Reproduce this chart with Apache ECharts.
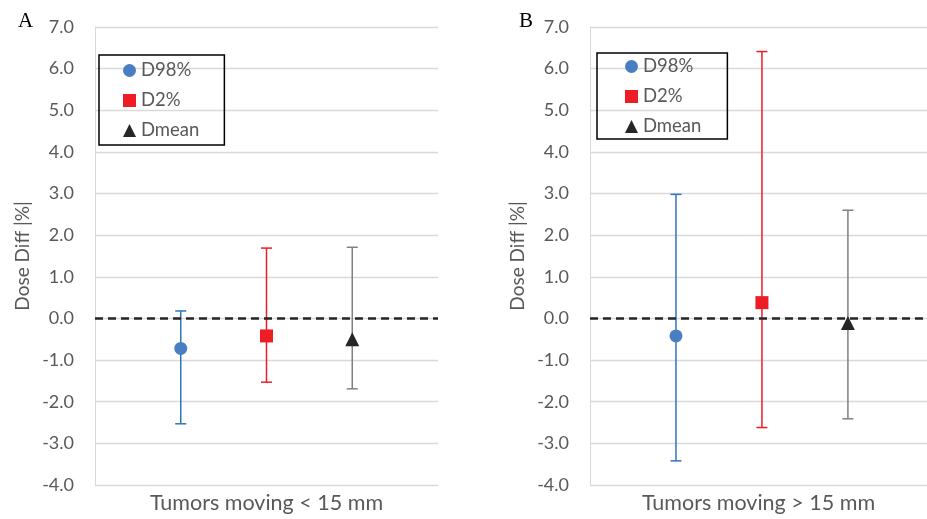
<!DOCTYPE html>
<html>
<head>
<meta charset="utf-8">
<script src="https://cdn.jsdelivr.net/npm/echarts@6/dist/echarts.min.js"></script>
<style>html,body{margin:0;padding:0;background:#fff;}#c{width:927px;height:519px;}</style>
</head>
<body>
<div id="c"></div>
<script>
// ---- data ----
const seriesNames = ['D98%', 'D2%', 'Dmean'];
const xPositions = [1, 2, 3];
const panelLabels = ['A', 'B'];
const categoryTitles = ['Tumors moving < 15 mm', 'Tumors moving > 15 mm'];
const yTickMin = -4, yTickMax = 7, yTickStep = 1;
// Panel A
const meanA = [-0.72, -0.42, -0.50];
const lowA  = [-2.53, -1.53, -1.69];
const highA = [0.18, 1.69, 1.71];
// Panel B
const meanB = [-0.42, 0.38, -0.11];
const lowB  = [-3.42, -2.62, -2.41];
const highB = [2.98, 6.41, 2.60];

// ---- styles ----
const markerColors = ['#4A7EC2', '#EE1C25', '#262626'];
const barColors = ['#2E75C0', '#EE1C25', '#808080'];
const symbols = ['circle', 'rect', 'triangle'];
const symbolSizes = [13, 13, 14];
const font = 'Lato, "Open Sans", sans-serif';
const gray = '#595959';

const chart = echarts.init(document.getElementById('c'));

function errSeries(gi, si, low, high) {
  return {
    type: 'custom',
    xAxisIndex: gi, yAxisIndex: gi,
    z: 2,
    silent: true,
    data: xPositions.map((x, i) => i === si ? [x, low[i], high[i]] : null).filter(d => d),
    encode: { x: 0, y: [1, 2] },
    renderItem: function (params, api) {
      const x = api.value(0);
      const p1 = api.coord([x, api.value(1)]);
      const p2 = api.coord([x, api.value(2)]);
      const hw = 5.5;
      const st = { stroke: barColors[si], lineWidth: 1.5 };
      return {
        type: 'group',
        children: [
          { type: 'line', shape: { x1: p1[0], y1: p1[1], x2: p2[0], y2: p2[1] }, style: st },
          { type: 'line', shape: { x1: p1[0] - hw, y1: p1[1], x2: p1[0] + hw, y2: p1[1] }, style: st },
          { type: 'line', shape: { x1: p2[0] - hw, y1: p2[1], x2: p2[0] + hw, y2: p2[1] }, style: st }
        ]
      };
    }
  };
}

function markerSeries(gi, si, mean) {
  return {
    type: 'scatter',
    name: seriesNames[si],
    xAxisIndex: gi, yAxisIndex: gi,
    z: 4,
    symbol: symbols[si],
    symbolSize: symbolSizes[si],
    itemStyle: { color: markerColors[si], opacity: 1 },
    data: [[xPositions[si], mean[si]]]
  };
}

function zeroLine(gi) {
  return {
    type: 'line',
    xAxisIndex: gi, yAxisIndex: gi,
    data: [],
    z: 3,
    markLine: {
      silent: true,
      symbol: 'none',
      label: { show: false },
      lineStyle: { color: '#262626', width: 2.5, type: [8, 5] },
      data: [{ yAxis: 0 }]
    }
  };
}

const panels = [
  { mean: meanA, low: lowA, high: highA },
  { mean: meanB, low: lowB, high: highB }
];

const series = [];
panels.forEach((p, gi) => {
  for (let si = 0; si < 3; si++) series.push(errSeries(gi, si, p.low, p.high));
  series.push(zeroLine(gi));
  for (let si = 0; si < 3; si++) series.push(markerSeries(gi, si, p.mean));
});

function yAxis(gi) {
  return {
    type: 'value', gridIndex: gi,
    min: yTickMin, max: yTickMax, interval: yTickStep,
    name: 'Dose Diff |%|',
    nameLocation: 'middle', nameRotate: 90, nameGap: 63,
    nameTextStyle: { color: gray, fontSize: 19, fontFamily: font },
    axisLine: { show: true, lineStyle: { color: '#D9D9D9', width: 1 } },
    axisTick: { show: false },
    axisLabel: { color: gray, fontSize: 18, fontFamily: font, margin: 21,
      formatter: v => v.toFixed(1) },
    splitLine: { show: true, lineStyle: { color: '#D9D9D9', width: 1.3 } }
  };
}
function xAxis(gi, max) {
  return {
    type: 'value', gridIndex: gi, min: 0, max: max,
    name: categoryTitles[gi],
    nameLocation: 'middle', nameGap: 7,
    nameTextStyle: { color: gray, fontSize: 21.5, fontFamily: font },
    axisLine: { show: false }, axisTick: { show: false },
    axisLabel: { show: false }, splitLine: { show: false }
  };
}

function legend(left, top, padding, gap) {
  return {
    orient: 'vertical',
    left: left, top: top,
    data: seriesNames.map((n, i) => ({ name: n, icon: symbols[i] })),
    itemWidth: 13, itemHeight: 13,
    itemGap: gap,
    itemTextGap: 5,
    selectedMode: false,
    padding: padding,
    borderColor: '#000', borderWidth: 1.5,
    textStyle: { color: gray, fontSize: 18.5, fontFamily: font }
  };
}

chart.setOption({
  animation: false,
  title: [
    { text: panelLabels[0], left: 13, top: 6,
      textStyle: { fontFamily: '"Liberation Serif", serif', fontSize: 21, fontWeight: 'normal', color: '#000' } },
    { text: panelLabels[1], left: 514, top: 6,
      textStyle: { fontFamily: '"Liberation Serif", serif', fontSize: 21, fontWeight: 'normal', color: '#000' } }
  ],
  legend: [legend(99, 55, [6, 25, 5, 24], 11), legend(597, 53, [4, 26, 3, 28], 11)],
  grid: [
    { left: 95, top: 27, width: 343, height: 459 },
    { left: 590, top: 27, width: 337, height: 459 }
  ],
  xAxis: [xAxis(0, 4), xAxis(1, 3.92)],
  yAxis: [yAxis(0), yAxis(1)],
  series: series
});
</script>
</body>
</html>
